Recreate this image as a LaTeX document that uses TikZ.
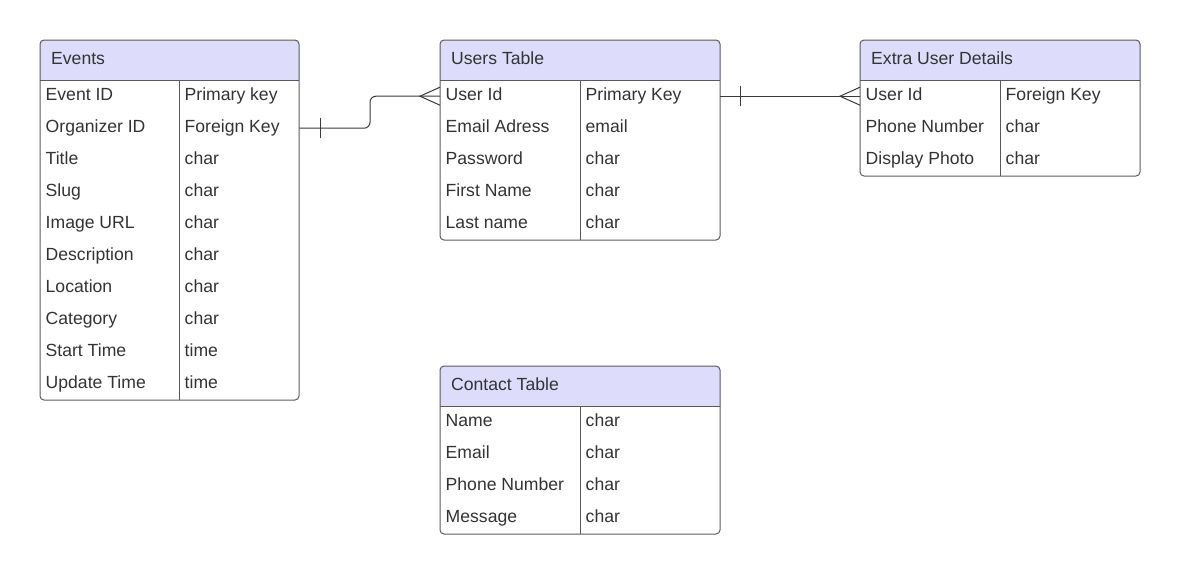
\documentclass[tikz,border=0pt]{standalone}
\usepackage{fontspec}
\setmainfont{Liberation Sans}
\definecolor{hdrfill}{HTML}{DDDDFB}
\definecolor{bordercol}{HTML}{5A5A5A}
\definecolor{conncol}{HTML}{3A3A3A}
\definecolor{txtcol}{HTML}{333333}
\tikzset{
  tborder/.style={draw=bordercol, line width=1pt},
  conn/.style={draw=conncol, line width=1pt},
  rowbox/.style={rectangle, inner sep=0pt, minimum height=32pt},
  celltext/.style={inner sep=0pt, text=txtcol, font=\fontsize{17.6}{20}\selectfont, text height=12.5pt, text depth=3.5pt},
  titletext/.style={celltext},
}
\newcommand\ertable[8]{%
  \fill[hdrfill] (#2,#3+40) [rounded corners=4pt] -- (#2,#3) -- (#2+#4,#3) [sharp corners] -- (#2+#4,#3+40) -- cycle;
  \node[titletext, anchor=west] (#1-title) at (#2+11,#3+19.5) {#6};
  \foreach \a/\b [count=\i] in {#8} {
    \node[rowbox, minimum width=#4pt, anchor=north west] (#1-r\i) at (#2,#3+8+32*\i) {};
    \node[celltext, anchor=west] (#1-k\i) at (#2+5.5,#3+23.5+32*\i) {\a};
    \node[celltext, anchor=west] (#1-t\i) at (#2+#5+5.5,#3+23.5+32*\i) {\b};
  }
  \draw[tborder] (#2,#3+40) -- (#2+#4,#3+40);
  \draw[tborder] (#2+#5,#3+40) -- (#2+#5,#3+40+32*#7);
  \draw[tborder, rounded corners=4pt] (#2,#3) rectangle (#2+#4,#3+40+32*#7);
}
\begin{document}
\begin{tikzpicture}[x=1pt, y=-1pt]
\useasboundingbox (0,0) rectangle (1180,574);

\ertable{ev}{40}{40}{259}{139}{Events}{10}{Event ID/Primary key, Organizer ID/Foreign Key, Title/char, Slug/char, Image URL/char, Description/char, Location/char, Category/char, Start Time/time, Update Time/time}
\ertable{us}{440}{40}{280}{140}{Users Table}{5}{User Id/Primary Key, Email Adress/email, Password/char, First Name/char, Last name/char}
\ertable{ex}{860}{40}{280}{140}{Extra User Details}{3}{User Id/Foreign Key, Phone Number/char, Display Photo/char}
\ertable{ct}{440}{366}{280}{140}{Contact Table}{4}{Name/char, Email/char, Phone Number/char, Message/char}

% Events -> Users
\coordinate (bend) at (370,0);
\draw[conn, rounded corners=6pt] (ev-r2.east) -| (bend |- us-r1.west) -- (us-r1.west);
\draw[conn] ([xshift=21pt,yshift=-10pt]ev-r2.east) -- ([xshift=21pt,yshift=10pt]ev-r2.east);
\draw[conn] ([yshift=9pt]us-r1.west) -- ([xshift=-20pt]us-r1.west) -- ([yshift=-9pt]us-r1.west);

% Users -> Extra
\draw[conn] (us-r1.east) -- (ex-r1.west);
\draw[conn] ([xshift=20pt,yshift=-10pt]us-r1.east) -- ([xshift=20pt,yshift=10pt]us-r1.east);
\draw[conn] ([yshift=9pt]ex-r1.west) -- ([xshift=-20pt]ex-r1.west) -- ([yshift=-9pt]ex-r1.west);
\end{tikzpicture}
\end{document}
